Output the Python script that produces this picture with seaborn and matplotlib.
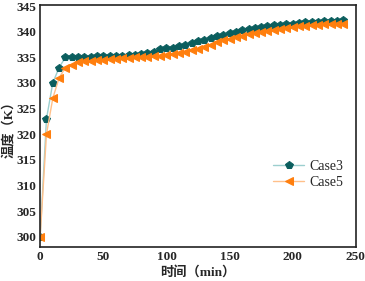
import matplotlib
matplotlib.use("Agg")
import matplotlib.pyplot as plt
from matplotlib.ticker import MultipleLocator
import numpy as np
import pandas as pd
import seaborn as sns

sns.set_theme(style="white")
plt.rcParams["font.family"] = ["Liberation Serif", "Noto Sans CJK SC"]

time_min = list(range(0, 245, 5))
case3 = [300, 323, 330, 333, 335, 335, 335, 335, 335.1, 335.2,
         335.2, 335.2, 335.2, 335.3, 335.4, 335.5, 335.6, 335.8, 336.0, 336.6,
         336.8, 336.9, 337.2, 337.5, 337.8, 338.1, 338.4, 338.8, 339.1, 339.4,
         339.7, 340.0, 340.3, 340.5, 340.7, 340.9, 341.1, 341.3, 341.4, 341.5,
         341.6, 341.7, 341.8, 341.9, 341.9, 342.0, 342.0, 342.1, 342.2]
case5 = [300, 320, 327, 331, 333, 333.6, 334.0, 334.2, 334.3, 334.4,
         334.5, 334.6, 334.7, 334.8, 334.9, 335.0, 335.0, 335.1, 335.2, 335.3,
         335.5, 335.7, 335.9, 336.1, 336.4, 336.7, 337.0, 337.5, 337.9, 338.3,
         338.6, 338.9, 339.2, 339.5, 339.8, 340.0, 340.2, 340.4, 340.6, 340.8,
         341.0, 341.1, 341.2, 341.3, 341.4, 341.5, 341.5, 341.6, 341.6]

df = pd.DataFrame({"t": time_min, "Case3": case3, "Case5": case5})

fig = plt.figure(figsize=(3.65, 2.81), dpi=100)
ax = fig.add_axes([0.11, 0.121, 0.865, 0.861])

sns.lineplot(data=df, x="t", y="Case3", ax=ax, color="#9ccfcf", lw=1.0,
             marker="p", ms=5.5, mfc="#0b5e5e", mec="#0b5e5e", label="Case3")
sns.lineplot(data=df, x="t", y="Case5", ax=ax, color="#ffc08a", lw=1.0,
             marker="<", ms=5.5, mfc="#ff7f0e", mec="#ff7f0e", label="Case5")

ax.set_xlim(0, 250)
ax.set_ylim(298, 345.2)
ax.xaxis.set_major_locator(MultipleLocator(50))
ax.xaxis.set_minor_locator(MultipleLocator(25))
ax.yaxis.set_major_locator(MultipleLocator(5))
ax.yaxis.set_minor_locator(MultipleLocator(2.5))
ax.tick_params(which="both", direction="in", labelsize=9.5, pad=3)
ax.tick_params(which="major", length=3, width=1)
ax.tick_params(which="minor", length=2, width=0.8)
for lbl in ax.get_xticklabels() + ax.get_yticklabels():
    lbl.set_fontweight("bold")
for s in ax.spines.values():
    s.set_linewidth(1.2)
    s.set_color("#222222")

ax.set_xlabel("时间（min）", fontsize=9.5, fontweight="bold", labelpad=2)
ax.set_ylabel("温度（K）", fontsize=9.5, fontweight="bold", labelpad=1)

ax.legend(loc="center right", bbox_to_anchor=(1.0, 0.30), frameon=False,
          fontsize=10, handlelength=2.2, labelspacing=0.2, handletextpad=0.4)

fig.savefig("out.png", dpi=100)
